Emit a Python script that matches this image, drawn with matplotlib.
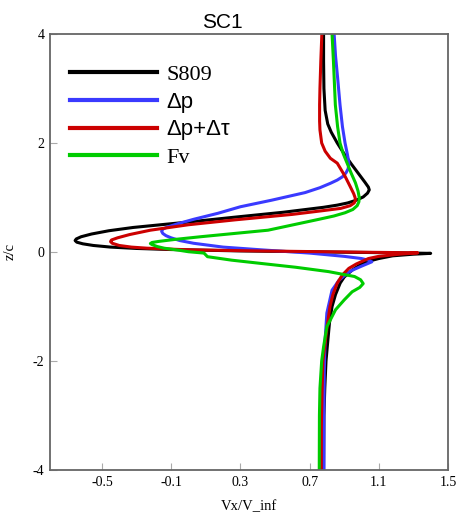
import numpy as np
import matplotlib.pyplot as plt

# velocity profiles Vx/V_inf against z/c
s809_x = [0.781, 0.781, 0.783, 0.790, 0.805, 0.825, 0.86, 0.90, 0.94, 0.98, 1.02, 1.04, 1.045,
          1.035, 1.01, 0.97, 0.92, 0.86, 0.78, 0.55, 0.27, 0.0, -0.32, -0.46, -0.56, -0.62,
          -0.648, -0.655, -0.645, -0.61, -0.55, -0.45, -0.30, -0.10, 0.30, 0.80, 1.20, 1.40,
          1.30, 1.18, 1.10, 1.04, 1.00, 0.947, 0.90, 0.877, 0.85, 0.83, 0.815, 0.806, 0.795,
          0.788, 0.783, 0.781]
s809_z = [4.0, 3.5, 3.0, 2.6, 2.35, 2.2, 2.0, 1.8, 1.62, 1.45, 1.28, 1.19, 1.14,
          1.08, 1.01, 0.95, 0.90, 0.86, 0.82, 0.73, 0.64, 0.55, 0.45, 0.39, 0.33, 0.28,
          0.24, 0.21, 0.18, 0.15, 0.12, 0.09, 0.065, 0.045, 0.02, 0.0, -0.015, -0.025,
          -0.04, -0.07, -0.12, -0.17, -0.22, -0.33, -0.46, -0.57, -0.78, -1.0, -1.3, -1.61, -2.0,
          -2.5, -3.0, -4.0]

dp_x = [0.842, 0.85, 0.862, 0.876, 0.89, 0.905, 0.918, 0.925, 0.927, 0.922, 0.91, 0.89, 0.86,
        0.82, 0.76, 0.674, 0.48, 0.30, 0.17, 0.03, -0.06, -0.12, -0.148, -0.155, -0.148,
        -0.13, -0.10, -0.05, 0.03, 0.20, 0.42, 0.70, 0.90, 1.0, 1.04, 1.06, 1.03, 1.0, 0.95,
        0.917, 0.87, 0.83, 0.80, 0.79, 0.785, 0.783, 0.783]
dp_z = [4.0, 3.6, 3.2, 2.7, 2.3, 2.0, 1.8, 1.68, 1.6, 1.52, 1.45, 1.38, 1.32,
        1.26, 1.18, 1.09, 0.95, 0.83, 0.71, 0.60, 0.52, 0.46, 0.42, 0.38, 0.34,
        0.30, 0.26, 0.21, 0.16, 0.09, 0.04, -0.02, -0.08, -0.12, -0.15, -0.18, -0.22, -0.26, -0.33,
        -0.39, -0.52, -0.70, -1.12, -1.6, -2.2, -3.0, -4.0]

dpt_x = [0.771, 0.765, 0.76, 0.758, 0.758, 0.76, 0.77, 0.79, 0.82, 0.86, 0.905, 0.935,
         0.955, 0.963, 0.965, 0.958, 0.935, 0.88, 0.78, 0.60, 0.27, 0.0, -0.22, -0.34,
         -0.41, -0.445, -0.45, -0.44, -0.40, -0.33, -0.24, 0.0, 0.40, 0.90, 1.325, 1.22,
         1.10, 1.04, 0.97, 0.927, 0.89, 0.86, 0.835, 0.818, 0.80, 0.785, 0.777, 0.772,
         0.768, 0.767]
dpt_z = [4.0, 3.5, 3.0, 2.7, 2.4, 2.24, 2.0, 1.85, 1.72, 1.63, 1.39, 1.2,
         1.07, 1.0, 0.95, 0.90, 0.85, 0.80, 0.76, 0.69, 0.59, 0.50, 0.40, 0.32,
         0.26, 0.22, 0.19, 0.16, 0.12, 0.09, 0.07, 0.04, 0.02, 0.0, -0.015, -0.04,
         -0.08, -0.12, -0.22, -0.30, -0.42, -0.57, -0.78, -1.0, -1.4, -1.8, -2.0, -2.6,
         -3.2, -4.0]

fv_x = [0.83, 0.838, 0.849, 0.862, 0.876, 0.895, 0.917, 0.94, 0.965, 0.98, 0.987, 0.985,
        0.975, 0.95, 0.905, 0.84, 0.754, 0.46, 0.07, -0.08, -0.17, -0.21, -0.22, -0.21,
        -0.18, -0.14, -0.05, 0.0, 0.09, 0.11, 0.25, 0.42, 0.62, 0.81, 0.96, 0.995, 1.01,
        0.99, 0.946, 0.90, 0.85, 0.80, 0.781, 0.77, 0.76, 0.757, 0.756]
fv_z = [4.0, 3.5, 2.7, 2.3, 2.0, 1.8, 1.63, 1.45, 1.27, 1.12, 1.0, 0.92,
        0.85, 0.78, 0.72, 0.66, 0.60, 0.40, 0.28, 0.23, 0.195, 0.175, 0.155, 0.135,
        0.10, 0.07, 0.03, 0.005, -0.02, -0.086, -0.15, -0.21, -0.28, -0.36, -0.45, -0.51, -0.58,
        -0.65, -0.73, -0.88, -1.06, -1.37, -1.74, -2.0, -2.5, -3.0, -4.0]

labels = ['S809', 'Δp', 'Δp+Δτ', 'Fv']
colors = ['#000000', '#3a3aff', '#cc0000', '#00cc00']
xticks = [-0.5, -0.1, 0.3, 0.7, 1.1, 1.5]
yticks = [-4, -2, 0, 2, 4]

serif = ['Liberation Serif', 'DejaVu Serif']
sans = ['Liberation Sans', 'DejaVu Sans']

fig = plt.figure(figsize=(4.6, 5.25), dpi=100)
ax = fig.add_axes([50 / 460, 55 / 525, 398 / 460, 436 / 525])

series = [(s809_x, s809_z), (dp_x, dp_z), (dpt_x, dpt_z), (fv_x, fv_z)]
for (x, z), c, lab in zip(series, colors, labels):
    ax.plot(x, z, color=c, lw=2.2, label=lab, solid_joinstyle='round')

ax.set_xlim(-0.8, 1.5)
ax.set_ylim(-4, 4)
ax.set_xticks(xticks)
ax.set_yticks(yticks)
ax.set_xticklabels(['%g' % t for t in xticks], fontfamily=serif, fontsize=10)
ax.set_yticklabels(['%g' % t for t in yticks], fontfamily=serif, fontsize=10)
ax.tick_params(direction='in', length=5, width=0.8, color='#aaaaaa', pad=4)

for sp in ax.spines.values():
    sp.set_color('#666666')
    sp.set_linewidth(1.3)

ax.set_xlabel('Vx/V_inf', fontfamily=serif, fontsize=10.5, labelpad=8)
ax.set_ylabel('z/c', fontfamily=serif, fontsize=10.5, labelpad=12)
ax.set_title('SC1', fontfamily=sans, fontsize=15, x=0.433, pad=4)

leg = ax.legend(loc='upper left', bbox_to_anchor=(0.05, 0.931), frameon=False,
                fontsize=16, handlelength=3.9, handletextpad=0.45,
                labelspacing=0.31, borderpad=0, borderaxespad=0)
for t, fam in zip(leg.get_texts(), [serif, sans, sans, serif]):
    t.set_fontfamily(fam)
for h in leg.get_lines():
    h.set_linewidth(3)

fig.savefig('out.png', dpi=100)
